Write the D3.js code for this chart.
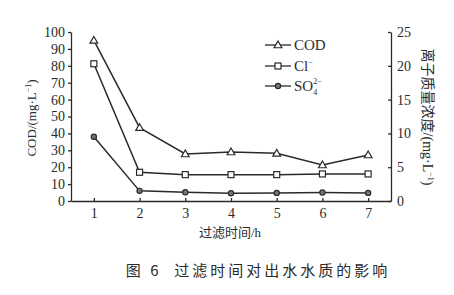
<!DOCTYPE html>
<html><head><meta charset="utf-8">
<script src="https://cdn.jsdelivr.net/npm/d3@7"></script>
<style>body{margin:0;background:#fff}svg{display:block}</style>
</head><body><svg id="c" width="454" height="295"></svg>
<script>
const hours = [1, 2, 3, 4, 5, 6, 7];
const cod = [95, 43.4, 27.8, 29, 28.2, 21.3, 27.2];
const cl = [20.3, 4.25, 3.9, 3.9, 3.9, 4.0, 4.0];
const so4 = [9.5, 1.5, 1.3, 1.15, 1.2, 1.25, 1.2];
const leftTicks = [0, 10, 20, 30, 40, 50, 60, 70, 80, 90, 100];
const rightTicks = [0, 5, 10, 15, 20, 25];

const svg = d3.select("#c");
const ink = "#2a2a2a";
const serif = "'Liberation Serif','DejaVu Serif',serif";
const cjk = "'Noto Sans CJK SC','Liberation Serif',serif";
const L = 71, R = 391, T = 32, B = 201;
const x = d3.scaleLinear().domain([0.5, 7.5]).range([L, R]);
const yL = d3.scaleLinear().domain([0, 100]).range([B, T]);
const yR = d3.scaleLinear().domain([0, 25]).range([B, T]);

function style(g) {
  g.selectAll("path,line").attr("stroke", ink).attr("stroke-width", 1.3);
  g.selectAll("text").attr("fill", ink).style("font-family", serif).style("font-size", "14px");
}
svg.append("g").attr("transform", `translate(${L},0)`)
  .call(d3.axisLeft(yL).tickValues(leftTicks).tickSize(3).tickSizeOuter(0).tickPadding(3))
  .call(style);
svg.append("g").attr("transform", `translate(${R},0)`)
  .call(d3.axisRight(yR).tickValues(rightTicks).tickSize(-3).tickSizeOuter(0).tickPadding(6))
  .call(style);
svg.append("g").attr("transform", `translate(0,${B})`)
  .call(d3.axisBottom(x).tickValues(hours).tickFormat(d3.format("d")).tickSize(-3).tickSizeOuter(0).tickPadding(7))
  .call(style);

const series = [
  {name: "COD", vals: cod, y: yL, marker: "tri"},
  {name: "Cl", vals: cl, y: yR, marker: "sq"},
  {name: "SO4", vals: so4, y: yR, marker: "dot"}
];
function drawMarker(g, type, cx, cy) {
  if (type === "tri") {
    g.append("path").attr("d", d3.symbol(d3.symbolTriangle, 26)())
      .attr("transform", `translate(${cx},${cy + 0.5})`)
      .attr("fill", "#fff").attr("stroke", ink).attr("stroke-width", 1.2);
  } else if (type === "sq") {
    g.append("rect").attr("x", cx - 3).attr("y", cy - 3).attr("width", 6).attr("height", 6)
      .attr("fill", "#fff").attr("stroke", ink).attr("stroke-width", 1.2);
  } else {
    g.append("circle").attr("cx", cx).attr("cy", cy).attr("r", 2.6)
      .attr("fill", "#777").attr("stroke", ink).attr("stroke-width", 1.2);
  }
}
series.forEach(s => {
  const line = d3.line().x((d, i) => x(hours[i])).y(d => s.y(d));
  svg.append("path").datum(s.vals).attr("d", line)
    .attr("fill", "none").attr("stroke", ink).attr("stroke-width", 1.5);
  const g = svg.append("g");
  s.vals.forEach((v, i) => drawMarker(g, s.marker, x(hours[i]), s.y(v)));
});

// legend
const legY = [45, 66, 86];
series.forEach((s, i) => {
  const g = svg.append("g");
  g.append("line").attr("x1", 265).attr("x2", 291).attr("y1", legY[i]).attr("y2", legY[i])
    .attr("stroke", ink).attr("stroke-width", 1.3);
  drawMarker(g, s.marker, 278, legY[i]);
  const t = g.append("text").attr("x", 294).attr("y", legY[i] + 5)
    .attr("fill", ink).style("font-family", serif).style("font-size", "15px");
  if (s.name === "COD") t.text("COD");
  else if (s.name === "Cl") {
    t.append("tspan").text("Cl");
    t.append("tspan").attr("dy", -6).style("font-size", "8px").text("−");
  } else {
    t.append("tspan").text("SO");
    t.append("tspan").attr("dy", 4).style("font-size", "8px").text("4");
    t.append("tspan").attr("dx", -4).attr("dy", -11).style("font-size", "8px").text("2−");
  }
});

// axis titles
const lt = svg.append("text").attr("transform", "translate(36,118) rotate(-90)")
  .attr("text-anchor", "middle").attr("fill", ink).style("font-family", serif).style("font-size", "13px");
lt.append("tspan").text("COD/(mg·L");
lt.append("tspan").attr("dy", -5).style("font-size", "8px").text("−1");
lt.append("tspan").attr("dy", 5).text(")");

const rt = svg.append("text").attr("transform", "translate(423,117) rotate(90)")
  .attr("text-anchor", "middle").attr("fill", ink).style("font-size", "14px");
rt.append("tspan").style("font-family", cjk).text("离子质量浓度");
rt.append("tspan").style("font-family", serif).text("/(mg·L");
rt.append("tspan").style("font-family", serif).attr("dy", -5).style("font-size", "8px").text("−1");
rt.append("tspan").style("font-family", serif).attr("dy", 5).text(")");

const xt = svg.append("text").attr("x", 230).attr("y", 237).attr("text-anchor", "middle")
  .attr("fill", ink).style("font-size", "13px");
xt.append("tspan").style("font-family", cjk).text("过滤时间");
xt.append("tspan").style("font-family", serif).text("/h");

svg.append("text").attr("x", 258).attr("y", 276).attr("text-anchor", "middle")
  .attr("fill", ink).style("font-family", cjk).style("font-size", "15px").style("letter-spacing", "3px")
  .attr("xml:space", "preserve").text("图 6  过滤时间对出水水质的影响");
</script></body></html>
